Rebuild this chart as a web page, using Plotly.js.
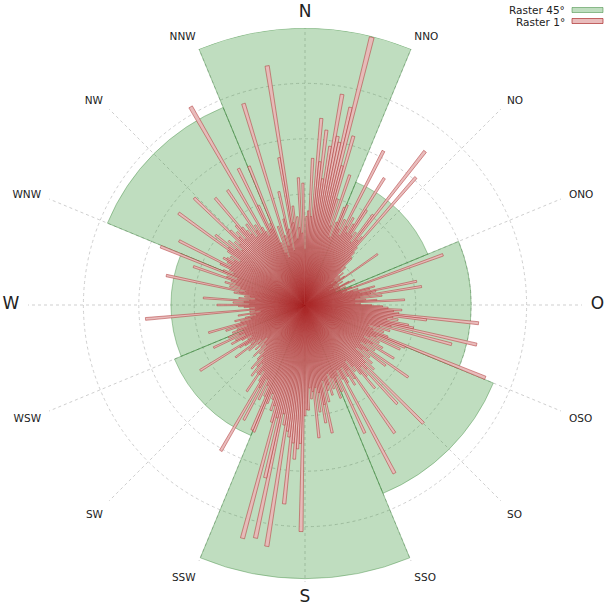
<!DOCTYPE html>
<html>
<head>
<meta charset="utf-8">
<script src="https://cdn.plot.ly/plotly-3.0.1.min.js"></script>
<style>html,body{margin:0;padding:0;background:#fff;}#chart{width:610px;height:610px;}</style>
</head>
<body>
<div id="chart"></div>
<script>
// 16 compass directions (German/Spanish style: O = Ost)
const dirLabels = ["N","NNO","NO","ONO","O","OSO","SO","SSO","S","SSW","SW","WSW","W","WNW","NW","NNW"];
const dirAngles = [0,22.5,45,67.5,90,112.5,135,157.5,180,202.5,225,247.5,270,292.5,315,337.5];

// 45° raster (centres N, NO, O, SO, S, SW, W, NW)
const raster45Theta = [0,45,90,135,180,225,270,315];
const raster45Vals  = [5.0,2.4,3.0,3.68,4.94,2.55,2.42,3.86];

// 1° raster, values for 0°..359°
const raster1Vals = [
  1.0,1.6,1.7,2.65,1.6,3.38,2.6,3.18,2.3,2.9,3.86,3.1,3.0,3.66,4.98,2.6,3.17,2.0,1.5,2.48,1.3,1.6,1.9,
  1.96,1.5,1.7,1.4,3.12,1.6,1.8,1.5,1.7,2.7,2.04,1.5,1.6,1.4,2.04,3.52,1.5,1.6,3.05,1.4,1.3,1.2,1.19,
  0.9,1.0,0.8,0.7,0.9,0.6,0.8,0.7,0.88,1.6,0.7,0.6,0.8,0.5,0.7,0.6,0.9,1.0,0.7,0.6,0.8,0.6,
  0.7,0.9,2.65,0.8,0.7,1.0,0.9,1.3,1.2,1.0,2.06,1.3,1.2,2.13,1.0,1.4,0.9,1.1,1.3,1.8,0.9,1.0,1.2,1.4,1.5,1.75,1.6,1.7,3.15,2.21,1.6,1.7,1.5,1.9,2.0,3.18,1.6,2.74,1.4,1.6,1.2,1.5,1.3,1.6,3.51,
  1.96,1.4,1.89,1.3,1.5,1.2,1.6,1.4,1.87,1.3,1.5,1.2,2.27,1.4,1.82,1.3,1.5,1.2,1.6,1.4,1.7,1.5,3.02,1.6,2.44,1.5,1.7,1.96,1.6,1.4,1.5,1.24,2.82,1.6,1.4,1.7,1.5,1.3,1.6,3.44,1.5,1.3,2.55,1.4,1.7,
  1.5,1.8,1.4,1.6,1.3,1.7,1.5,1.6,1.8,1.4,2.36,1.83,2.16,1.6,1.95,1.5,2.41,1.57,1.7,1.5,1.9,1.89,2.0,4.09,2.5,2.6,2.79,2.5,3.61,2.4,2.3,4.41,2.2,2.0,4.3,3.2,2.1,4.36,2.2,1.9,2.0,1.8,1.7,1.9,2.47,
  2.45,1.8,1.6,1.9,1.5,2.35,1.7,3.04,1.6,1.4,1.5,1.88,1.5,1.3,1.6,1.4,1.2,1.5,1.3,1.1,1.2,1.0,1.3,1.1,1.0,1.2,0.9,1.1,1.3,1.0,1.57,1.2,1.1,1.3,1.4,2.23,1.2,1.1,1.3,1.5,1.4,1.2,1.82,1.3,1.5,
  1.2,1.4,1.3,1.1,1.5,1.3,1.81,1.2,1.0,1.3,1.1,0.9,1.0,1.22,0.8,1.0,0.9,2.89,1.0,0.9,1.1,1.2,1.59,1.0,1.3,1.1,1.84,1.0,1.2,0.9,1.1,1.0,1.3,1.2,2.56,1.1,1.4,1.2,1.5,1.3,1.4,2.13,1.5,1.3,2.81,
  1.6,1.4,1.5,1.7,2.55,1.5,1.6,1.7,1.64,1.5,1.6,1.4,1.7,2.82,1.72,2.05,1.6,1.8,1.5,1.7,1.6,2.78,1.9,1.7,1.8,1.6,1.9,2.52,1.8,1.7,1.6,1.8,1.5,2.5,1.6,1.7,1.5,4.13,1.6,1.5,1.4,2.74,1.98,1.5,1.6,
  2.7,1.2,1.0,1.5,0.9,3.8,1.3,1.1,1.6,2.1,1.4,1.0,2.7,4.37,1.5,1.8,1.2,1.6,1.4,2.3,1.3,2.2
];
const raster1Theta = raster1Vals.map((v, i) => i);

const seriesNames = ["Raster 45°", "Raster 1°"];
const fillColors = ["rgba(34,139,34,0.29)", "rgba(232,184,184,0.95)"];
const lineColors = ["rgba(34,120,34,0.45)", "rgba(170,40,40,0.68)"];

const cardinal = new Set(["N","O","S","W"]);
const tickText = dirLabels.map(l => cardinal.has(l)
  ? '<span style="font-size:17px">' + l + '</span>'
  : '<span style="font-size:10.5px">' + l + '</span>');

const traces = [
  {
    type: 'barpolar', name: seriesNames[0],
    r: raster45Vals, theta: raster45Theta, width: raster45Theta.map(() => 45),
    marker: {color: fillColors[0], line: {color: lineColors[0], width: 0.8}},
    hoverinfo: 'skip'
  },
  {
    type: 'barpolar', name: seriesNames[1],
    r: raster1Vals, theta: raster1Theta, width: raster1Theta.map(() => 1),
    marker: {color: fillColors[1], line: {color: lineColors[1], width: 0.7}},
    hoverinfo: 'skip'
  }
];

const legendFont = {family: 'DejaVu Sans', size: 10.5, color: '#222'};

const layout = {
  width: 610, height: 610,
  margin: {l: 0, r: 0, t: 0, b: 0},
  paper_bgcolor: '#fff',
  showlegend: false,
  font: {family: 'DejaVu Sans', color: '#222'},
  polar: {
    domain: {x: [28/610, 582/610], y: [28/610, 582/610]},
    bgcolor: 'rgba(0,0,0,0)',
    barmode: 'overlay',
    bargap: 0,
    radialaxis: {
      range: [0, 5], tickvals: [1,2,3,4,5], showticklabels: false, ticks: '',
      showline: false, gridcolor: '#cfcfcf', griddash: '3px,3px', gridwidth: 1
    },
    angularaxis: {
      rotation: 90, direction: 'clockwise',
      tickmode: 'array', tickvals: dirAngles, ticktext: tickText,
      ticks: 'outside', ticklen: 6, tickcolor: 'rgba(0,0,0,0)',
      tickfont: {family: 'DejaVu Sans', size: 11, color: '#222'},
      showline: false, gridcolor: '#cfcfcf', griddash: '3px,3px', gridwidth: 1
    }
  },
  annotations: [
    {xref: 'paper', yref: 'paper', x: 567/610, y: 1 - 9.5/610, xanchor: 'right', yanchor: 'middle',
     height: 10, text: seriesNames[0], showarrow: false, font: legendFont},
    {xref: 'paper', yref: 'paper', x: 567/610, y: 1 - 21.5/610, xanchor: 'right', yanchor: 'middle',
     height: 10, text: seriesNames[1], showarrow: false, font: legendFont}
  ],
  shapes: [
    {type: 'rect', xref: 'paper', yref: 'paper', x0: 572/610, x1: 603/610, y0: 1 - 12.5/610, y1: 1 - 7.5/610,
     fillcolor: fillColors[0], line: {color: lineColors[0], width: 1}},
    {type: 'rect', xref: 'paper', yref: 'paper', x0: 572/610, x1: 603/610, y0: 1 - 23.5/610, y1: 1 - 18.5/610,
     fillcolor: fillColors[1], line: {color: lineColors[1], width: 1}}
  ]
};

Plotly.newPlot('chart', traces, layout, {displayModeBar: false, staticPlot: true});
</script>
</body>
</html>
